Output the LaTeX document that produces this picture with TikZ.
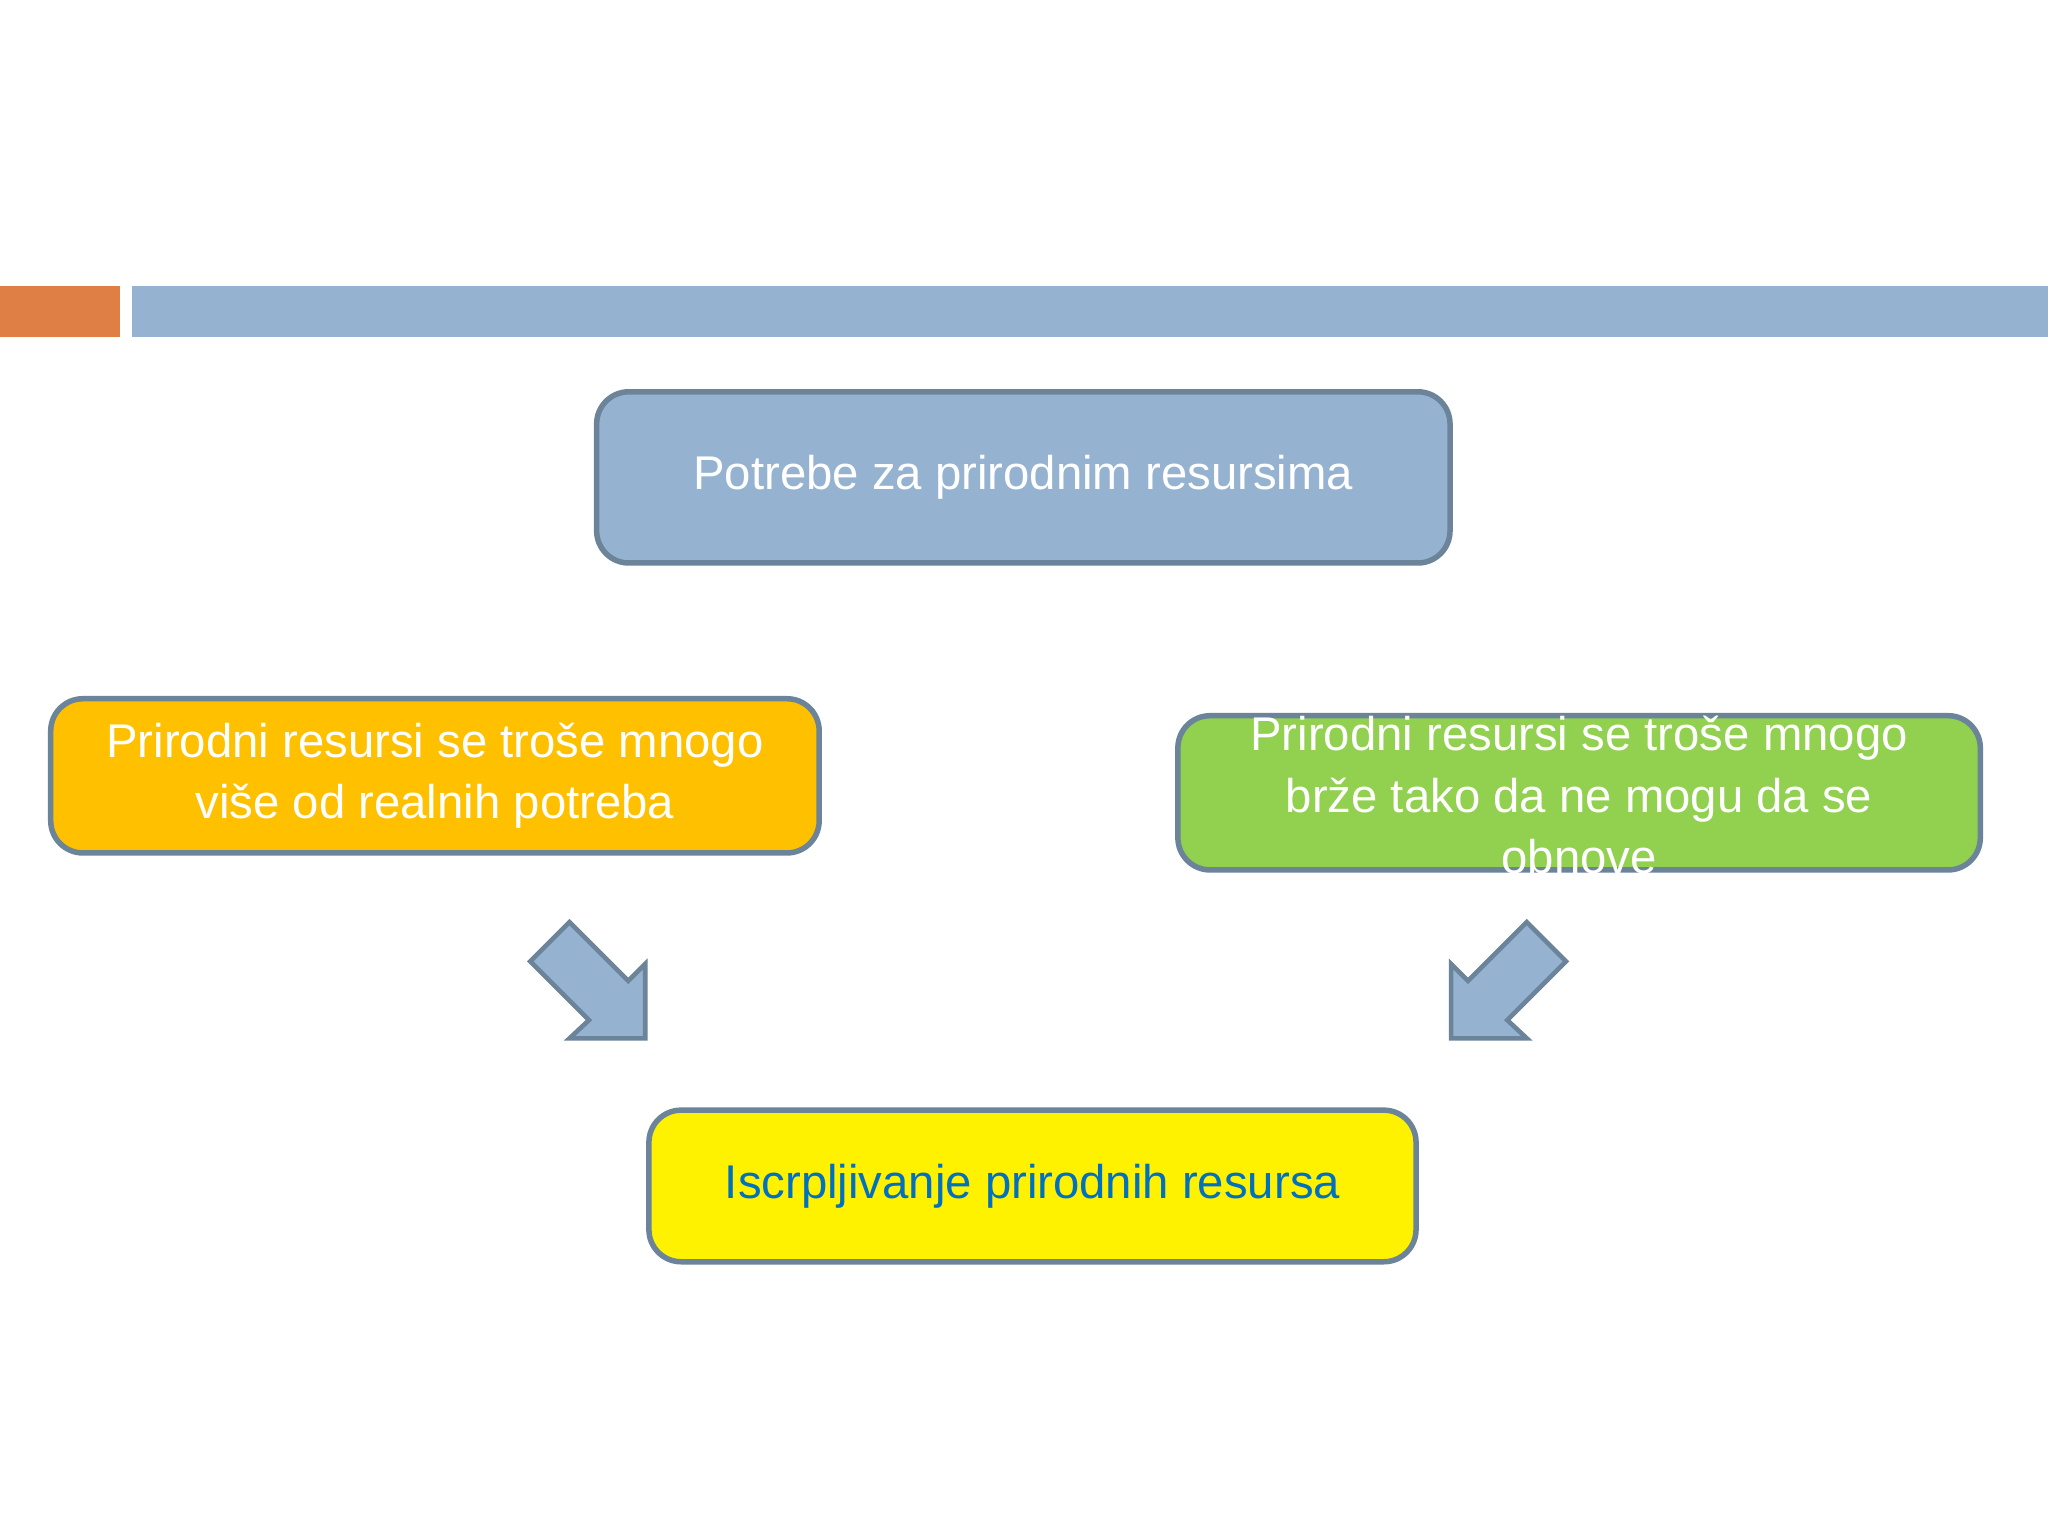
\documentclass[tikz,border=0pt]{standalone}
\usepackage{fontspec}
\setmainfont{Liberation Sans}
\definecolor{bbar}{HTML}{95B3D0}
\definecolor{obar}{HTML}{E07F45}
\definecolor{edge}{HTML}{6B8499}
\definecolor{gold}{HTML}{FFC000}
\definecolor{lgreen}{HTML}{92D050}
\definecolor{tblue}{HTML}{0070C0}
\begin{document}
\begin{tikzpicture}[x=0.01cm,y=-0.01cm,
  box/.style={draw=edge,line width=1.2pt,rounded corners=7pt,text=white,align=center,inner sep=0pt,
    font=\fontsize{10.3}{13.4}\selectfont},
  barrow/.style={fill=bbar,draw=edge,line width=1pt}]
\fill[white] (0,0) rectangle (1568,1176);
\fill[obar] (0,219) rectangle (92,258);
\fill[bbar] (101,219) rectangle (1568,258);
\node[box,fill=bbar,minimum width=653\pgflinewidth*0+6.53cm,minimum height=1.31cm] (top) at (783.5,365.5) {Potrebe za prirodnim resursima};
\node[box,fill=gold,minimum width=5.88cm,minimum height=1.18cm] (left) at (333,594) {Prirodni resursi se troše mnogo\\više od realnih potreba};
\node[box,fill=lgreen,minimum width=6.14cm,minimum height=1.18cm] (right) at (1209,607) {};
\node[text=white,align=center,font=\fontsize{10.3}{13.4}\selectfont] (rtext) at (1209,609) {Prirodni resursi se troše mnogo\\brže tako da ne mogu da se\\obnove};
\node[box,fill=yellow,text=tblue,minimum width=5.87cm,minimum height=1.16cm] (bot) at (790.5,908) {Iscrpljivanje prirodnih resursa};
\draw[barrow] (406,736)--(436,706)--(481,751)--(494,738)--(494,795)--(436,795)--(451,781)--cycle;
\draw[barrow] (1199,736)--(1169,706)--(1124,751)--(1111,738)--(1111,795)--(1169,795)--(1154,781)--cycle;
\end{tikzpicture}
\end{document}
